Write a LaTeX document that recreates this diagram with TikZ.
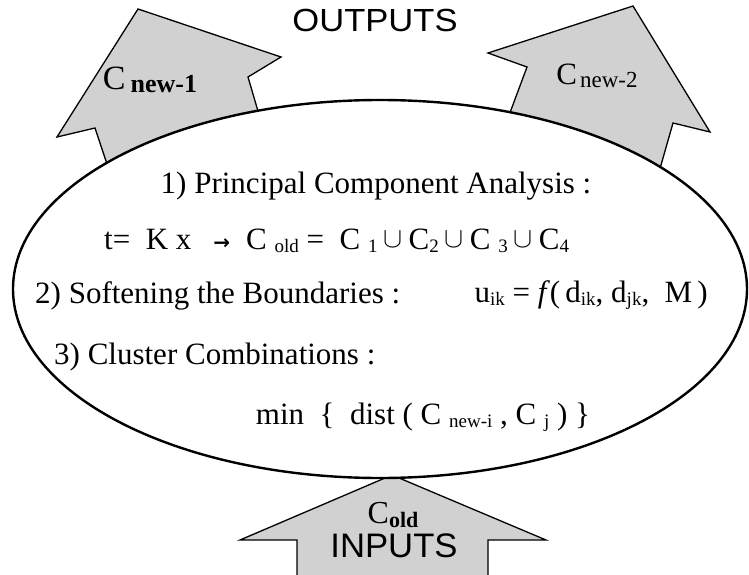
\documentclass[tikz,border=0pt]{standalone}
\usepackage{fontspec}
\setmainfont{Liberation Serif}
\newfontfamily\arialf{Liberation Sans}
\newfontfamily\djvf{DejaVu Sans}
\newcommand\sbs[1]{\raisebox{-0.1em}{\fontsize{19}{19}\selectfont #1}}
\newcommand\sbb[2]{\raisebox{-0.1em}{\fontsize{#1}{#1}\selectfont\bfseries #2}}
\newcommand\sbr[2]{\raisebox{-0.1em}{\fontsize{#1}{#1}\selectfont #2}}
\newcommand\uu{\hspace{6pt}\raisebox{0.05em}{\scalebox{1.15}{$\cup$}}\hspace{6pt}}
\begin{document}
\begin{tikzpicture}[x=1pt,y=-1pt,
  bigarrow/.style={draw=black,line width=1.3pt,fill=black!18,line join=miter},
  oval/.style={draw=black,line width=2.4pt,fill=white},
  lbl/.style={inner sep=0pt,font=\fontsize{31}{34}\selectfont},
  sanslbl/.style={inner sep=0pt,font=\arialf\fontsize{32}{34}\selectfont}]
\useasboundingbox (0,0) rectangle (749,575);
\clip (0,0) rectangle (749,575);
% output arrows
\draw[bigarrow] (138,9) -- (281,57) -- (248,77) -- (260,118) -- (109,170) -- (95,128) -- (57,137) -- cycle;
\draw[bigarrow] (633,6) -- (710,132) -- (673,123) -- (659,172) -- (508,118) -- (527,67) -- (488,53) -- cycle;
% input arrow
\draw[bigarrow] (392,475) -- (546,540) -- (488,540) -- (488,600) -- (297,600) -- (297,540) -- (240,540) -- cycle;
% process oval
\draw[oval] (380,289) ellipse [x radius=367, y radius=189];
% labels
\node[sanslbl] (out) at (375,20) {\scalebox{1.08}[1]{OUTPUTS}};
\node[inner sep=0pt,font=\fontsize{34}{34}\selectfont] (cn1) at (150,80) {C\hspace{5pt}\sbb{26}{new-1}};
\node[inner sep=0pt,font=\fontsize{31}{31}\selectfont] (cn2) at (597,76) {C\hspace{3pt}\sbr{23}{new-2}};
\node[inner sep=0pt,font=\fontsize{32}{32}\selectfont] (cold) at (393,515) {C\sbb{22}{old}};
\node[sanslbl,font=\arialf\fontsize{34}{34}\selectfont] (inp) at (394,546) {\scalebox{1.02}[1]{INPUTS}};
\node[lbl,anchor=base] (pca) at (376,193) {1) Principal Component Analysis :};
\node[lbl,anchor=base west] (eq1) at (104,249) {t= \ K x\hspace{22pt}{\djvf\bfseries\fontsize{20}{20}\selectfont →}\hspace{16pt}C \sbs{old} = \ C \sbs{1}\uu C\sbs{2}\uu C \sbs{3}\uu C\sbs{4}};
\node[lbl,anchor=base west] (soft) at (35,303) {2) Softening the Boundaries :};
\node[lbl,anchor=base east] (eq2) at (708,302) {u\sbs{ik} = \textit{f}(\,d\sbs{ik}, d\sbs{jk}, \ M\,)};
\node[lbl,anchor=base west] (clus) at (54,364) {3) Cluster Combinations :};
\node[lbl,anchor=base] (eq3) at (423,424) {min \ \{ \ dist ( C \sbs{new-i} , C \sbs{j} ) \}};
\end{tikzpicture}
\end{document}
